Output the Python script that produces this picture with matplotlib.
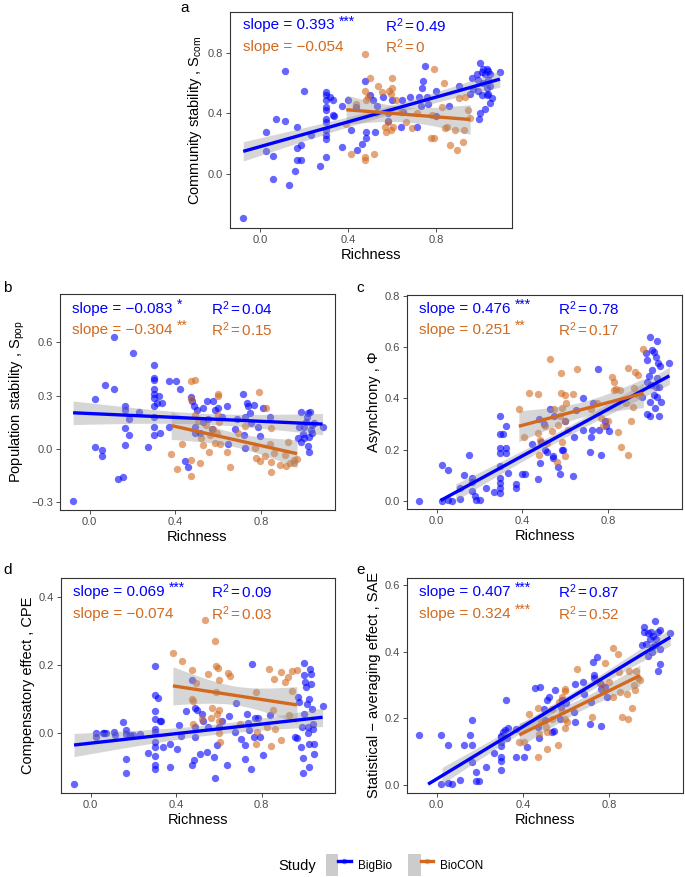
import numpy as np
import matplotlib
matplotlib.use('Agg')
import matplotlib.pyplot as plt
from matplotlib.patches import Patch
from matplotlib.lines import Line2D
from matplotlib.legend_handler import HandlerTuple

plt.rcParams['font.family'] = ['Liberation Sans', 'DejaVu Sans']
plt.rcParams['mathtext.fontset'] = 'custom'
plt.rcParams['mathtext.rm'] = 'Liberation Sans'
plt.rcParams['mathtext.it'] = 'Liberation Sans:italic'
plt.rcParams['mathtext.bf'] = 'Liberation Sans:bold'

# ---------------- data ----------------
studies = ["BigBio", "BioCON"]
colors = {"BigBio": "#0000FF", "BioCON": "#D2691E"}

big_a = [(-0.078,-0.29),(0.026,0.28),(0.026,0.15),(0.057,-0.03),(0.057,0.12),(0.071,0.36),(0.11,0.68),(0.11,0.35),
         (0.13,-0.07),(0.155,0.02),(0.165,0.31),(0.165,0.17),(0.165,0.09),(0.185,0.19),(0.185,0.09),(0.2,0.55),(0.23,0.26),(0.27,0.05),
         (0.30,0.54),(0.30,0.52),(0.30,0.49),(0.30,0.44),(0.30,0.42),(0.30,0.36),(0.30,0.34),(0.30,0.29),(0.30,0.26),(0.30,0.23),(0.30,0.11),
         (0.315,0.51),(0.33,0.49),(0.33,0.39),(0.335,0.38),(0.37,0.45),(0.37,0.18),(0.40,0.49),(0.41,0.29),(0.435,0.44),(0.44,0.16),
         (0.46,0.20),(0.475,0.61),(0.48,0.28),(0.48,0.24),(0.50,0.52),(0.51,0.49),(0.52,0.28),(0.53,0.45),(0.555,0.51),(0.58,0.35),
         (0.58,0.40),(0.60,0.49),(0.64,0.31),(0.645,0.49),(0.65,0.41),(0.68,0.51),(0.71,0.31),(0.72,0.51),(0.73,0.45),(0.735,0.57),
         (0.74,0.61),(0.75,0.71),(0.755,0.51),(0.76,0.46),(0.80,0.55),(0.80,0.38),(0.855,0.45),(0.90,0.58),(0.95,0.53),(0.96,0.63),(0.967,0.56),
         (0.998,0.73),(1.013,0.69),(1.028,0.69),(1.035,0.68),(0.983,0.66),(1.005,0.67),(1.02,0.66),(1.043,0.66),(1.088,0.67),(0.987,0.62),
         (1.013,0.60),(1.035,0.62),(0.99,0.55),(1.028,0.57),(1.043,0.58),(1.005,0.52),(1.035,0.53),(1.05,0.50),(1.043,0.47),(1.02,0.43),
         (0.998,0.40),(0.993,0.36),(1.028,0.52)]
bio_a = [(0.477,0.79),(0.498,0.63),(0.477,0.55),(0.48,0.49),(0.488,0.51),(0.39,0.33),(0.41,0.13),(0.435,0.46),(0.477,0.11),(0.477,0.09),
         (0.518,0.13),(0.533,0.58),(0.553,0.54),(0.525,0.40),(0.568,0.31),(0.57,0.28),(0.578,0.34),(0.585,0.55),(0.593,0.53),(0.597,0.63),
         (0.60,0.57),(0.593,0.29),(0.603,0.31),(0.615,0.49),(0.638,0.41),(0.66,0.34),(0.69,0.30),(0.713,0.40),(0.773,0.24),(0.788,0.24),
         (0.788,0.69),(0.78,0.39),(0.825,0.44),(0.833,0.60),(0.84,0.30),(0.848,0.31),(0.863,0.19),(0.885,0.29),(0.893,0.16),(0.90,0.50),
         (0.92,0.21),(0.925,0.29),(0.945,0.42),(0.953,0.37),(0.93,0.51)]

big_b = [(-0.077,-0.29),(0.026,0.28),(0.026,0.01),(0.058,-0.005),(0.058,-0.04),(0.072,0.36),(0.112,0.63),(0.112,0.34),(0.13,-0.17),
         (0.154,-0.16),(0.166,0.24),(0.166,0.22),(0.166,0.12),(0.166,0.02),(0.185,0.17),(0.185,0.08),(0.2,0.54),(0.23,0.21),(0.274,0.01),
         (0.30,0.47),(0.30,0.40),(0.30,0.39),(0.30,0.34),(0.30,0.31),(0.30,0.285),(0.30,0.24),(0.30,0.18),(0.30,0.125),(0.30,0.08),
         (0.315,0.26),(0.323,0.30),(0.327,0.09),(0.338,0.26),(0.37,0.38),(0.37,0.125),(0.403,0.38),(0.423,0.34),(0.446,-0.07),(0.46,-0.10),
         (0.474,0.29),(0.477,0.27),(0.485,0.24),(0.49,0.125),(0.49,0.09),(0.50,0.22),(0.515,0.09),(0.526,0.15),(0.53,0.23),(0.546,0.27),
         (0.55,0.17),(0.57,0.11),(0.577,0.27),(0.585,0.22),(0.60,0.23),(0.615,0.18),(0.638,0.24),(0.646,0.03),(0.677,0.11),(0.685,0.17),
         (0.715,0.31),(0.72,0.08),(0.723,0.004),(0.726,0.18),(0.735,0.26),(0.738,0.24),(0.746,0.20),(0.754,0.145),(0.766,0.25),(0.785,0.125),
         (0.792,0.075),(0.808,0.23),(0.838,0.18),(0.97,0.06),(0.977,0.126),(0.985,0.21),(0.992,0.085),(1.0,0.126),(1.008,0.154),(1.012,0.18),
         (1.018,0.20),(1.028,0.21),(1.023,0.07),(1.018,0.017),(1.023,-0.015),(1.03,0.107),(1.034,0.135),(1.038,0.088),(0.997,0.06),
         (1.043,0.145),(1.085,0.126),(0.985,0.04)]
bio_b = [(0.38,-0.03),(0.408,-0.11),(0.43,0.03),(0.474,0.38),(0.474,0.28),(0.474,-0.06),(0.474,-0.15),(0.49,0.39),(0.49,0.19),(0.505,0.16),
         (0.515,-0.08),(0.52,0.06),(0.53,0.02),(0.54,0.135),(0.554,-0.015),(0.56,0.08),(0.577,0.11),(0.585,0.035),(0.592,0.09),(0.597,0.31),
         (0.60,0.30),(0.60,0.19),(0.603,0.15),(0.608,0.03),(0.64,-0.015),(0.654,-0.10),(0.69,0.09),(0.723,0.13),(0.77,0.004),(0.777,-0.05),
         (0.788,0.32),(0.792,-0.065),(0.815,-0.04),(0.823,0.23),(0.838,0.03),(0.846,0.12),(0.846,-0.075),(0.846,-0.13),(0.858,-0.02),
         (0.885,-0.09),(0.908,-0.035),(0.915,-0.095),(0.923,0.04),(0.935,-0.08),(0.954,-0.06),(0.966,-0.055),(0.95,-0.08)]

big_c = [(-0.081,0.0),(0.023,0.14),(0.023,0.0),(0.054,0.12),(0.054,0.005),(0.07,0.0),(0.107,0.05),(0.107,0.006),(0.127,0.10),(0.153,0.18),
         (0.164,0.09),(0.164,0.075),(0.164,0.04),(0.18,0.017),(0.184,0.004),(0.2,0.004),(0.23,0.05),(0.268,0.034),
         (0.296,0.33),(0.296,0.26),(0.296,0.205),(0.296,0.186),(0.296,0.134),(0.296,0.088),(0.296,0.069),(0.296,0.05),(0.296,0.03),
         (0.307,0.26),(0.322,0.29),(0.322,0.205),(0.322,0.186),(0.334,0.11),(0.368,0.066),(0.368,0.05),(0.40,0.105),(0.41,0.105),
         (0.445,0.222),(0.472,0.085),(0.475,0.32),(0.483,0.147),(0.488,0.23),(0.498,0.30),(0.503,0.20),(0.514,0.19),(0.526,0.357),
         (0.541,0.175),(0.544,0.166),(0.549,0.33),(0.567,0.13),(0.575,0.105),(0.586,0.20),(0.59,0.20),(0.60,0.31),(0.636,0.095),(0.64,0.25),
         (0.647,0.355),(0.68,0.40),(0.682,0.277),(0.713,0.19),(0.718,0.25),(0.724,0.277),(0.728,0.38),(0.752,0.515),(0.756,0.277),
         (0.764,0.18),(0.782,0.31),(0.79,0.29),(0.805,0.274),
         (0.994,0.64),(1.025,0.625),(1.005,0.59),(1.012,0.58),(1.02,0.56),(0.98,0.55),(0.974,0.575),(1.03,0.536),(1.04,0.526),(1.084,0.536),
         (1.005,0.51),(0.997,0.45),(1.02,0.445),(1.035,0.443),(0.978,0.465),(1.012,0.413),(1.025,0.406),(0.958,0.406),(0.994,0.387),
         (1.043,0.387),(1.015,0.364),(0.982,0.339),(0.992,0.332),(1.038,0.332),(0.989,0.487),(1.028,0.478)]
bio_c = [(0.383,0.36),(0.406,0.25),(0.43,0.42),(0.472,0.416),(0.472,0.264),(0.475,0.18),(0.483,0.238),(0.506,0.29),(0.514,0.225),
         (0.529,0.553),(0.537,0.274),(0.549,0.36),(0.56,0.153),(0.567,0.296),(0.575,0.33),(0.58,0.50),(0.583,0.364),(0.58,0.42),(0.586,0.23),
         (0.598,0.413),(0.598,0.31),(0.598,0.173),(0.603,0.38),(0.613,0.277),(0.636,0.416),(0.652,0.513),(0.721,0.36),(0.748,0.383),
         (0.767,0.322),(0.775,0.29),(0.798,0.31),(0.816,0.484),(0.825,0.465),(0.828,0.432),(0.836,0.435),(0.847,0.27),(0.856,0.432),
         (0.859,0.21),(0.882,0.383),(0.89,0.18),(0.89,0.52),(0.905,0.31),(0.917,0.367),(0.92,0.44),(0.925,0.504),(0.94,0.49),(0.963,0.592),
         (0.936,0.413)]

big_d = [(-0.077,-0.15),(0.026,0.0),(0.026,-0.01),(0.058,0.001),(0.062,0.0),(0.074,0.0),(0.108,0.004),(0.115,-0.006),(0.154,0.033),
         (0.166,0.009),(0.166,-0.001),(0.166,-0.074),(0.166,-0.115),(0.185,-0.006),(0.2,-0.006),(0.23,-0.001),(0.27,-0.058),
         (0.30,0.198),(0.30,0.112),(0.30,0.066),(0.30,0.043),(0.30,0.014),(0.30,0.004),(0.30,-0.025),(0.30,-0.04),(0.30,-0.065),
         (0.30,-0.094),(0.30,-0.106),(0.315,0.104),(0.323,0.036),(0.33,0.036),(0.338,-0.04),(0.37,-0.10),(0.372,-0.03),(0.403,-0.045),
         (0.412,0.026),(0.423,-0.008),(0.446,0.065),(0.474,0.156),(0.474,-0.092),(0.485,-0.079),(0.49,0.074),(0.49,0.019),(0.49,-0.011),
         (0.50,0.068),(0.512,-0.062),(0.523,0.058),(0.526,0.036),(0.546,-0.055),(0.551,0.019),(0.577,-0.07),(0.58,-0.13),(0.592,-0.033),
         (0.60,0.019),(0.615,0.035),(0.638,-0.092),(0.646,0.05),(0.677,0.004),(0.68,0.09),(0.705,-0.016),(0.72,-0.074),(0.723,-0.035),
         (0.731,0.058),(0.735,0.031),(0.742,0.009),(0.749,-0.106),(0.754,0.203),(0.762,-0.011),(0.77,0.045),(0.785,0.045),(0.792,-0.011),
         (0.808,-0.063),(0.838,0.053),(0.954,-0.011),(0.965,-0.014),(0.97,0.106),(0.977,0.092),(0.985,-0.04),(0.988,0.019),(0.992,-0.072),
         (0.992,-0.116),(0.997,0.207),(0.997,0.17),(1.003,0.15),(1.008,0.136),(1.012,0.087),(1.015,0.019),(1.018,0.001),(1.023,0.10),
         (1.023,-0.03),(1.023,-0.10),(1.028,0.19),(1.03,0.175),(1.03,0.146),(1.034,0.072),(1.038,0.028),(1.038,0.014),(1.043,-0.032),
         (1.043,-0.06),(1.085,0.08),(1.0,0.058)]
bio_d = [(0.385,0.237),(0.43,0.211),(0.474,0.185),(0.474,0.10),(0.477,0.095),(0.477,0.028),(0.495,0.149),(0.523,0.041),(0.534,0.332),
         (0.551,0.175),(0.562,0.045),(0.569,0.074),(0.58,0.27),(0.585,0.198),(0.585,0.121),(0.592,0.058),(0.597,0.193),(0.60,0.156),
         (0.60,0.07),(0.60,0.035),(0.60,0.002),(0.605,-0.025),(0.643,0.178),(0.654,0.168),(0.70,0.028),(0.772,0.121),(0.772,-0.03),
         (0.78,0.004),(0.834,0.188),(0.823,0.019),(0.846,-0.038),(0.854,0.07),(0.858,0.16),(0.862,0.012),(0.892,0.18),(0.892,-0.019),
         (0.91,0.15),(0.923,0.165),(0.928,0.055),(0.942,0.182),(0.942,0.123),(0.965,0.185)]

big_e = [(-0.081,0.15),(0.02,0.15),(0.02,0.003),(0.054,0.12),(0.054,0.006),(0.069,0.003),(0.107,0.013),(0.127,0.118),(0.153,0.15),
         (0.164,0.194),(0.164,0.12),(0.164,0.068),(0.18,0.038),(0.18,0.01),(0.196,0.01),(0.23,0.053),(0.268,0.096),(0.296,0.148),
         (0.296,0.143),(0.296,0.128),(0.296,0.115),(0.296,0.083),(0.296,0.07),(0.296,0.043),(0.307,0.16),(0.317,0.166),(0.322,0.254),
         (0.327,0.14),(0.33,0.17),(0.368,0.168),(0.368,0.083),(0.406,0.083),(0.419,0.113),(0.455,0.29),(0.472,0.174),(0.475,0.14),
         (0.48,0.294),(0.498,0.229),(0.503,0.194),(0.514,0.254),(0.52,0.264),(0.537,0.16),(0.544,0.163),(0.549,0.286),(0.57,0.199),
         (0.575,0.234),(0.583,0.254),(0.60,0.247),(0.636,0.219),(0.64,0.189),(0.644,0.304),(0.68,0.309),(0.682,0.274),(0.713,0.184),
         (0.718,0.249),(0.724,0.369),(0.728,0.329),(0.728,0.321),(0.744,0.384),(0.756,0.306),(0.764,0.176),(0.764,0.289),(0.782,0.294),
         (0.79,0.264),(0.963,0.476),(0.963,0.461),(0.982,0.457),(0.994,0.461),(1.012,0.494),(1.025,0.459),(1.035,0.467),(1.005,0.447),
         (0.989,0.437),(1.02,0.439),(0.969,0.424),(0.954,0.421),(0.997,0.414),(1.035,0.409),(0.982,0.386),(1.0,0.399),(1.028,0.341),
         (1.038,0.364),(1.084,0.457),(1.012,0.419)]
bio_e = [(0.383,0.128),(0.406,0.128),(0.43,0.214),(0.472,0.083),(0.472,0.231),(0.475,0.153),(0.483,0.189),(0.506,0.174),(0.514,0.158),
         (0.537,0.229),(0.537,0.199),(0.564,0.12),(0.567,0.249),(0.58,0.221),(0.583,0.264),(0.595,0.289),(0.595,0.281),(0.595,0.199),
         (0.595,0.171),(0.603,0.189),(0.514,0.106),(0.652,0.347),(0.721,0.204),(0.748,0.311),(0.767,0.299),(0.775,0.281),(0.782,0.366),
         (0.798,0.309),(0.816,0.412),(0.84,0.394),(0.844,0.339),(0.851,0.279),(0.816,0.264),(0.859,0.204),(0.882,0.274),(0.89,0.197),
         (0.893,0.341),(0.905,0.232),(0.917,0.301),(0.923,0.341),(0.92,0.286),(0.936,0.321),(0.943,0.316)]

slope_text = {
    "a": ("0.393", "***", "\u22120.054", ""),
    "b": ("\u22120.083", "*", "\u22120.304", "**"),
    "c": ("0.476", "***", "0.251", "**"),
    "d": ("0.069", "***", "\u22120.074", ""),
    "e": ("0.407", "***", "0.324", "***"),
}
r2_text = {
    "a": ("0.49", "0"),
    "b": ("0.04", "0.15"),
    "c": ("0.78", "0.17"),
    "d": ("0.09", "0.03"),
    "e": ("0.87", "0.52"),
}
ylabels = {
    "a": r"Community stability , $\mathrm{S}_{\mathrm{com}}$",
    "b": r"Population stability , $\mathrm{S}_{\mathrm{pop}}$",
    "c": "Asynchrony , \u03a6",
    "d": "Compensatory effect , CPE",
    "e": "Statistical \u2212 averaging effect , SAE",
}
yticks = {
    "a": [0.0, 0.4, 0.8],
    "b": [-0.3, 0.0, 0.3, 0.6],
    "c": [0.0, 0.2, 0.4, 0.6, 0.8],
    "d": [0.0, 0.2, 0.4],
    "e": [0.0, 0.2, 0.4, 0.6],
}
# lower scale limit of y (values of the smooth below it are dropped), None = no limit
y_scale_floor = {"a": None, "b": None, "c": 0.0, "d": None, "e": 0.0}
xticks = [0.0, 0.4, 0.8]
data = {"a": (big_a, bio_a), "b": (big_b, bio_b), "c": (big_c, bio_c), "d": (big_d, bio_d), "e": (big_e, bio_e)}

# ---------------- layout ----------------
W, H = 685, 877
fig = plt.figure(figsize=(W / 100, H / 100), dpi=100)

def rect(l, r, t, b):
    return [l / W, 1 - b / H, (r - l) / W, (b - t) / H]

layout = {
    "a": dict(rect=rect(230, 512, 12, 228), ylim=(-0.356, 1.068), ann=(0.98, 0.837), lab=(180, 8)),
    "b": dict(rect=rect(60, 335, 294, 510), ylim=(-0.343, 0.872), ann=(0.79, 0.67), lab=(3, 288)),
    "c": dict(rect=rect(407, 682, 295, 509), ylim=(-0.032, 0.803), ann=(0.748, 0.666), lab=(356, 288)),
    "d": dict(rect=rect(61, 335, 578, 793), ylim=(-0.175, 0.456), ann=(0.415, 0.351), lab=(3, 570)),
    "e": dict(rect=rect(407, 683, 578, 793), ylim=(-0.025, 0.622), ann=(0.58, 0.515), lab=(356, 570)),
}
XLIM = (-0.138, 1.143)
GREY = "#4D4D4D"


def add_fit(ax, pts, color, floor):
    x = np.array([p[0] for p in pts])
    y = np.array([p[1] for p in pts])
    n = len(x)
    X = np.column_stack([np.ones(n), x])
    b, *_ = np.linalg.lstsq(X, y, rcond=None)
    xs = np.linspace(x.min(), x.max(), 200)
    yh = b[0] + b[1] * xs
    res = y - (b[0] + b[1] * x)
    df = n - 2
    s = np.sqrt(res @ res / df)
    se = s * np.sqrt(1 / n + (xs - x.mean()) ** 2 / ((x - x.mean()) ** 2).sum())
    t = 1.96 + 2.5 / df
    lo, hi = yh - t * se, yh + t * se
    band_ok = np.ones_like(xs, dtype=bool)
    line_ok = np.ones_like(xs, dtype=bool)
    if floor is not None:
        band_ok = lo >= floor
        line_ok = yh >= floor
    ax.fill_between(xs[band_ok], lo[band_ok], hi[band_ok], color="#999999", alpha=0.4, lw=0, zorder=3)
    ax.plot(xs[line_ok], yh[line_ok], color=color, lw=2.4, zorder=4, solid_capstyle="butt")


for key in ["a", "b", "c", "d", "e"]:
    L = layout[key]
    ax = fig.add_axes(L["rect"])
    big, bio = data[key]
    for pts, st in [(big, "BigBio"), (bio, "BioCON")]:
        ax.scatter([p[0] for p in pts], [p[1] for p in pts], s=28, color=colors[st], alpha=0.6,
                   linewidths=0, zorder=2)
    add_fit(ax, big, colors["BigBio"], y_scale_floor[key])
    add_fit(ax, bio, colors["BioCON"], y_scale_floor[key])
    ax.set_xlim(*XLIM)
    ax.set_ylim(*L["ylim"])
    ax.set_xticks(xticks)
    ax.set_xticklabels([f"{v:.1f}" for v in xticks])
    ax.set_yticks(yticks[key])
    ax.set_yticklabels([f"{v:.1f}".replace("-", "\u2212") for v in yticks[key]])
    ax.tick_params(axis="both", colors="#333333", labelcolor=GREY, labelsize=8, length=3, width=0.6, pad=2)
    for sp in ax.spines.values():
        sp.set_color("#333333")
        sp.set_linewidth(0.8)
    ax.set_xlabel("Richness", fontsize=10.5, labelpad=2)
    ax.set_ylabel(ylabels[key], fontsize=10.5, labelpad=3)

    y1, y2 = L["ann"]
    s1, st1, s2, st2 = slope_text[key]
    r1, r2 = r2_text[key]
    for yy, sv, stars, rv, col in [(y1, s1, st1, r1, colors["BigBio"]), (y2, s2, st2, r2, colors["BioCON"])]:
        t = ax.text(-0.08, yy, f"slope = {sv}", color=col, fontsize=11, ha="left", va="center", zorder=6)
        if stars:
            ax.annotate(stars, xy=(1, 0.78), xycoords=t, xytext=(3, 0), textcoords="offset points",
                        color=col, fontsize=10, ha="left", va="center")
        ax.text(0.565, yy, r"R$^{2}$$\,$=$\,$" + rv, color=col, fontsize=11, ha="left", va="center", zorder=6)

    lx, ly = L["lab"]
    fig.text(lx / W, 1 - ly / H, key, fontsize=11, ha="left", va="center")

# ---------------- legend ----------------
handles = []
for st in studies:
    rgba = matplotlib.colors.to_rgba(colors[st], 0.5)
    handles.append((Patch(facecolor="#CCCCCC", edgecolor="none"),
                    Line2D([], [], color=colors[st], lw=2.4, marker="o", markersize=4,
                           markerfacecolor=rgba, markeredgewidth=0)))
fig.text(278 / W, 1 - 866 / H, "Study", fontsize=10.5, ha="left", va="center")
leg = fig.legend(handles, studies, loc="center left", bbox_to_anchor=(320 / W, 1 - 865 / H), ncol=2, frameon=False,
                 handler_map={tuple: HandlerTuple(ndivide=None, pad=0)}, fontsize=8.5, handlelength=2.1,
                 handleheight=2.4, handletextpad=0.6, columnspacing=1.4, borderpad=0)

fig.savefig("out.png", dpi=100)
